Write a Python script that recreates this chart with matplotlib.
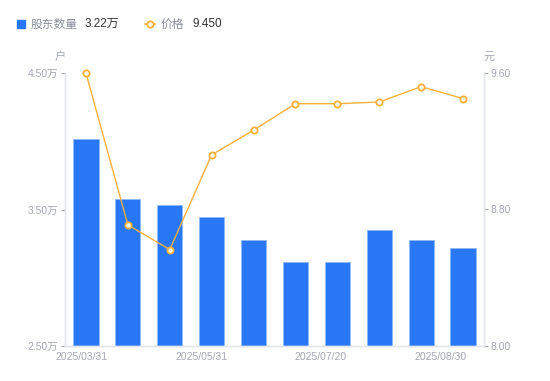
import numpy as np
import matplotlib.pyplot as plt
from matplotlib.patches import Rectangle
from matplotlib.lines import Line2D

plt.rcParams['font.family'] = ['Noto Sans CJK SC', 'DejaVu Sans']

# data
holders = [4.02, 3.58, 3.53, 3.445, 3.275, 3.115, 3.115, 3.35, 3.28, 3.22]  # 万户
price = [9.60, 8.71, 8.565, 9.12, 9.265, 9.42, 9.42, 9.43, 9.52, 9.45]
x_labels = ['2025/03/31', '2025/05/31', '2025/07/20', '2025/08/30']
x_label_pos = [-0.1, 2.75, 5.6, 8.45]
left_ticks = [2.5, 3.5, 4.5]
right_ticks = [8.0, 8.8, 9.6]

bar_color = '#2878f5'
line_color = '#fbb03b'
axis_color = '#e3e5ea'
tick_color = '#a3a6b4'
tick_font = ['Liberation Sans', 'Noto Sans CJK SC']

fig = plt.figure(figsize=(5.5, 3.81), dpi=100)
ax = fig.add_axes([65 / 550, 1 - 346 / 381, 419 / 550, 273 / 381])
ax2 = ax.twinx()

x = np.arange(len(holders))
ax.bar(x, holders, width=0.6, color=bar_color, edgecolor='#8fb8fa', linewidth=0.6, zorder=2)
ax.set_xlim(-0.5, len(holders) - 0.5)
ax.set_ylim(2.5, 4.5)
ax.set_yticks(left_ticks)
ax.set_yticklabels([f'{v:.2f}万' for v in left_ticks], family=tick_font)

ax2.plot(x, price, color=line_color, linewidth=1, marker='o', markersize=4.5,
         markerfacecolor='white', markeredgecolor=line_color, markeredgewidth=1.3,
         zorder=3, clip_on=False)
ax2.set_ylim(8.0, 9.6)
ax2.set_yticks(right_ticks)
ax2.set_yticklabels([f'{v:.2f}' for v in right_ticks], family=tick_font)

ax.set_xticks(x_label_pos)
ax.set_xticklabels(x_labels, family=tick_font)

for a in (ax, ax2):
    for s in a.spines.values():
        s.set_color(axis_color)
        s.set_linewidth(1)
    a.spines['top'].set_visible(False)
    a.tick_params(colors=tick_color, labelsize=7.5, length=3, width=0.8)
ax.tick_params(axis='x', length=0, pad=4)
ax.tick_params(axis='y', pad=2)
ax2.tick_params(axis='y', pad=2)

# unit labels
fig.text(60 / 550, 1 - 57 / 381, '户', color=tick_color, fontsize=8, ha='center', va='center')
fig.text(489 / 550, 1 - 57 / 381, '元', color=tick_color, fontsize=8, ha='center', va='center')

# legend
ly = 1 - 24 / 381
fig.patches.append(Rectangle((17 / 550, ly - 4 / 381), 8 / 550, 8 / 381,
                             transform=fig.transFigure, color=bar_color, figure=fig))
fig.text(31 / 550, ly, '股东数量', color='#8a8d99', fontsize=8.5, va='center')
fig.text(85 / 550, ly, f'{holders[-1]:.2f}万', color='#333333', fontsize=8.5, va='center',
         family=tick_font)
fig.lines.append(Line2D([145 / 550, 155 / 550], [ly, ly], transform=fig.transFigure,
                        color=line_color, linewidth=1.2, figure=fig))
fig.lines.append(Line2D([150 / 550], [ly], transform=fig.transFigure, color=line_color,
                        marker='o', markersize=4.5, markerfacecolor='white',
                        markeredgewidth=1.3, figure=fig))
fig.text(161 / 550, ly, '价格', color='#8a8d99', fontsize=8.5, va='center')
fig.text(192 / 550, ly, f'{price[-1]:.3f}', color='#333333', fontsize=8.5, va='center',
         family=tick_font)

fig.savefig('out.png', dpi=100)
